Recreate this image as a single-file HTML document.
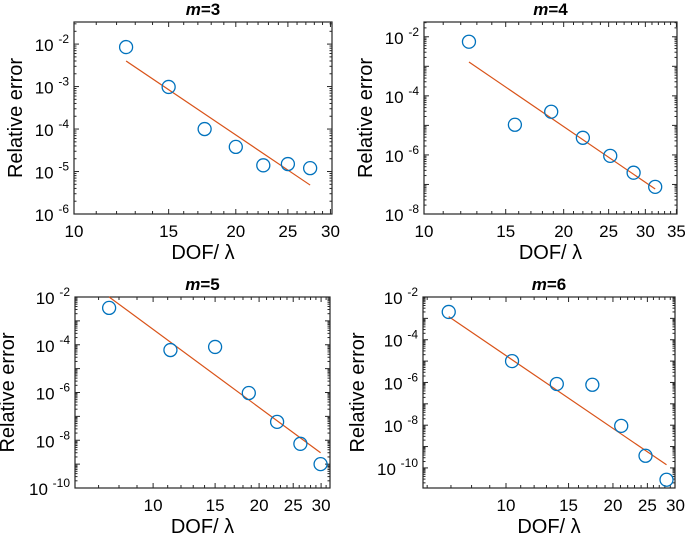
<!DOCTYPE html>
<html><head><meta charset="utf-8">
<style>
body{margin:0;background:#fff;}
svg{display:block;font-family:"Liberation Sans",Arial,sans-serif;}
</style></head>
<body>
<svg id="fig" width="685" height="535" viewBox="0 0 685 535" xmlns="http://www.w3.org/2000/svg"></svg>
<script>
// Panel data (DOF/lambda, relative error)
const xM3 = [12.5, 15, 17.5, 20, 22.5, 25, 27.5];
const yM3 = [8.5e-3, 9.8e-4, 1.0e-4, 3.8e-5, 1.4e-5, 1.5e-5, 1.2e-5];
const fitXM3 = [12.5, 27.5];
const fitYM3 = [4.0e-3, 4.8e-6];

const xM4 = [12.5, 15.7, 18.8, 22.0, 25.2, 28.3, 31.5];
const yM4 = [6.8e-3, 1.05e-5, 2.9e-5, 3.8e-6, 9.3e-7, 2.5e-7, 8.3e-8];
const fitXM4 = [12.5, 31.5];
const fitYM4 = [1.4e-3, 7.0e-8];

const xM5 = [7.5, 11.2, 15, 18.7, 22.5, 26.2, 29.9];
const yM5 = [3.5e-3, 6.0e-5, 8.1e-5, 9.5e-7, 5.9e-8, 7.1e-9, 1.0e-9];
const fitXM5 = [7.5, 29.9];
const fitYM5 = [1.0e-2, 3.0e-9];

const xM6 = [6.9, 10.4, 13.9, 17.5, 21.1, 24.7, 28.3];
const yM6 = [2.0e-3, 1.0e-5, 8.5e-7, 7.8e-7, 9.3e-9, 3.7e-10, 2.8e-11];
const fitXM6 = [6.9, 28.3];
const fitYM6 = [1.2e-3, 1.4e-10];

const xTicksA = [10, 15, 20, 25, 30];
const xTicksB = [10, 15, 20, 25, 30, 35];
const yTicksM3 = [-2, -3, -4, -5, -6];
const yTicksM4 = [-2, -4, -6, -8];
const yTicksM56 = [-2, -4, -6, -8, -10];

const NS = "http://www.w3.org/2000/svg";
const svg = document.getElementById('fig');
function mk(tag, attrs, parent) {
  const e = document.createElementNS(NS, tag);
  for (const k in attrs) e.setAttribute(k, attrs[k]);
  (parent || svg).appendChild(e);
  return e;
}

function panel(p) {
  const g = mk('g', {});
  
  
  const L = Math.log10;
  const sx = v => p.l + (L(v) - L(p.xmin)) / (L(p.xmax) - L(p.xmin)) * (p.r - p.l);
  const sy = v => p.b - (L(v) - p.ymin) / (p.ymax - p.ymin) * (p.b - p.t);
  const box = mk('rect', {x: p.l, y: p.t, width: p.r - p.l, height: p.b - p.t, fill: 'none', stroke: '#262626', 'stroke-width': 1.2}, g);
  
  
  for (let v = Math.ceil(p.xmin); v <= p.xmax; v++) {
    const x = sx(v);
    const major = p.xticks.includes(v);
    const len = major ? 5 : 3;
    mk('line', {x1: x, x2: x, y1: p.b, y2: p.b - len, stroke: '#262626', 'stroke-width': 1}, g);
    mk('line', {x1: x, x2: x, y1: p.t, y2: p.t + len, stroke: '#262626', 'stroke-width': 1}, g);
  }
  p.xticks.forEach(v => {
    const t = mk('text', {x: sx(v), y: p.b + 23, 'font-size': 17, 'text-anchor': 'middle', fill: '#000'}, g);
    t.textContent = v;
    
    
  });
  for (let d = Math.floor(p.ymin); d <= Math.ceil(p.ymax); d++) {
    for (let m = 1; m < 10; m++) {
      const lv = d + Math.log10(m);
      if (lv < p.ymin - 1e-9 || lv > p.ymax + 1e-9) continue;
      const y = sy(Math.pow(10, lv));
      const len = m === 1 ? 5 : 2.5;
      mk('line', {x1: p.l, x2: p.l + len, y1: y, y2: y, stroke: '#262626', 'stroke-width': 1}, g);
      mk('line', {x1: p.r, x2: p.r - len, y1: y, y2: y, stroke: '#262626', 'stroke-width': 1}, g);
    }
  }
  p.yticks.forEach(e => {
    const y = sy(Math.pow(10, e));
    const t = mk('text', {x: p.l - 5, y: y + 7, 'font-size': 17, 'text-anchor': 'end', fill: '#000'}, g);
    
    
    const a = mk('tspan', {}, t); a.textContent = '10 ';
    const b = mk('tspan', {dy: -8, 'font-size': 12}, t); b.textContent = String(e);
  });
  const fl = mk('line', {x1: sx(p.fx[0]), y1: sy(p.fy[0]), x2: sx(p.fx[1]), y2: sy(p.fy[1]), stroke: '#D95319', 'stroke-width': 1.2}, g);
  
  
  p.xs.forEach((xv, i) => {
    const c = mk('circle', {cx: sx(xv), cy: sy(p.ys[i]), r: 6.5, fill: 'none', stroke: '#0072BD', 'stroke-width': 1.3}, g);
    
    
  });
  const tt = mk('text', {x: (p.l + p.r) / 2, y: p.t - 7, 'font-size': 17, 'font-weight': 'bold', 'text-anchor': 'middle'}, g);
  
  
  const ti = mk('tspan', {'font-style': 'italic'}, tt); ti.textContent = 'm';
  const tn = mk('tspan', {}, tt); tn.textContent = '=' + p.id;
  const xl = mk('text', {x: (p.l + p.r) / 2, y: p.xly, 'font-size': 20, 'text-anchor': 'middle'}, g);
  xl.textContent = 'DOF/ λ';
  
  
  const cy = (p.t + p.b) / 2;
  const yl = mk('text', {x: p.ylx, y: cy, 'font-size': 20, 'text-anchor': 'middle', transform: 'rotate(-90 ' + p.ylx + ' ' + cy + ')'}, g);
  yl.textContent = 'Relative error';
  
  
}

panel({id: 3, l: 74, r: 332, t: 22, b: 214, xmin: 10, xmax: 30.2, ymin: -6, ymax: -1.48,
  xs: xM3, ys: yM3, fx: fitXM3, fy: fitYM3, xticks: xTicksA, yticks: yTicksM3, xly: 259, ylx: 22});
panel({id: 4, l: 424, r: 677, t: 22, b: 214, xmin: 10, xmax: 35.1, ymin: -8, ymax: -1.5,
  xs: xM4, ys: yM4, fx: fitXM4, fy: fitYM4, xticks: xTicksB, yticks: yTicksM4, xly: 259, ylx: 372});
panel({id: 5, l: 75, r: 330, t: 297, b: 488, xmin: 6.0, xmax: 31.8, ymin: -10, ymax: -2,
  xs: xM5, ys: yM5, fx: fitXM5, fy: fitYM5, xticks: xTicksA, yticks: yTicksM56, xly: 533, ylx: 14});
panel({id: 6, l: 423, r: 675, t: 297, b: 488, xmin: 5.84, xmax: 29.9, ymin: -10.94, ymax: -2,
  xs: xM6, ys: yM6, fx: fitXM6, fy: fitYM6, xticks: xTicksA, yticks: yTicksM56, xly: 533, ylx: 364});
</script>
</body></html>
